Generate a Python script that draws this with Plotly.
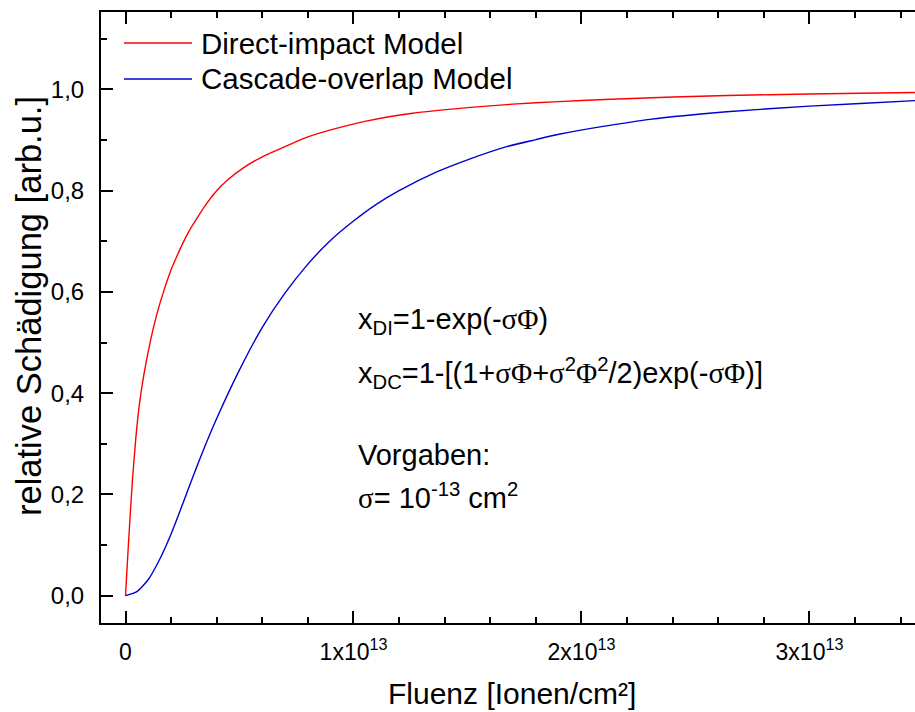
import plotly.graph_objects as go

# ---------------- data ----------------
# Fluence in units of 1e13 ions/cm^2
phi_di = [0, 0.01, 0.02, 0.03, 0.045, 0.06, 0.08, 0.11, 0.14, 0.17, 0.20, 0.22, 0.25,
          0.28, 0.32, 0.35, 0.40, 0.45, 0.52, 0.60, 0.68, 0.78, 0.90, 1.05, 1.26, 1.50,
          1.70, 1.90, 2.10, 2.40, 2.64, 3.00, 3.46, 3.50]
val_di = [0.0, 0.08, 0.155, 0.225, 0.31, 0.375, 0.435, 0.505, 0.56, 0.605, 0.644, 0.665, 0.695,
          0.721, 0.75, 0.771, 0.80, 0.822, 0.846, 0.867, 0.883, 0.903, 0.92, 0.937, 0.953, 0.964,
          0.971, 0.976, 0.980, 0.985, 0.988, 0.991, 0.994, 0.994]

phi_dc = [0, 0.05, 0.10, 0.15, 0.20, 0.25, 0.30, 0.35, 0.40, 0.50, 0.60, 0.70, 0.80,
          0.90, 1.00, 1.10, 1.20, 1.365, 1.50, 1.672, 1.80, 1.906, 2.081, 2.30, 2.637,
          3.00, 3.463, 3.50]
val_dc = [0.0, 0.008, 0.032, 0.072, 0.122, 0.180, 0.240, 0.297, 0.350, 0.446, 0.530, 0.598,
          0.655, 0.702, 0.740, 0.773, 0.800, 0.837, 0.861, 0.887, 0.901, 0.912, 0.926, 0.941,
          0.956, 0.967, 0.978, 0.979]

x_tick_vals = [0, 1, 2, 3]
x_tick_text = ["0", "1x10<sup>13</sup>", "2x10<sup>13</sup>", "3x10<sup>13</sup>"]
y_tick_vals = [0.0, 0.2, 0.4, 0.6, 0.8, 1.0]

series_names = ["Direct-impact Model", "Cascade-overlap Model"]
series_colors = ["#ff0000", "#0000d0"]

UNIT = 1e13
FONT = "Liberation Sans, Arial, sans-serif"

# ---------------- figure ----------------
FW, FH = 915, 712
ML, MR, MT, MB = 101, 0, 12, 89
PW, PH = FW - ML - MR, FH - MT - MB


def px(xp):
    return (xp - ML) / PW


def py(yp):
    return (FH - MB - yp) / PH


fig = go.Figure()
fig.add_trace(go.Scatter(x=[p * UNIT for p in phi_di], y=val_di, mode="lines",
                         line=dict(color=series_colors[0], width=1.4, shape="spline",
                                   smoothing=0.6),
                         name=series_names[0], showlegend=False))
fig.add_trace(go.Scatter(x=[p * UNIT for p in phi_dc], y=val_dc, mode="lines",
                         line=dict(color=series_colors[1], width=1.4, shape="spline",
                                   smoothing=0.6),
                         name=series_names[1], showlegend=False))

axis_common = dict(showline=True, linewidth=2, linecolor="black", showgrid=False,
                   zeroline=False, ticks="inside", ticklen=12, tickwidth=2,
                   tickcolor="black")

fig.update_xaxes(
    **axis_common,
    range=[-0.1075 * UNIT, 3.463 * UNIT],
    tickmode="array", tickvals=[v * UNIT for v in x_tick_vals], ticktext=x_tick_text,
    mirror="ticks",
    minor=dict(tickmode="linear", tick0=0, dtick=0.2 * UNIT, ticks="inside",
               ticklen=6, tickwidth=2, tickcolor="black", showgrid=False),
    tickfont=dict(family=FONT, size=23, color="black"),
    ticklabelstandoff=7,
)
fig.update_yaxes(
    **axis_common,
    range=[-0.054, 1.153],
    tickmode="array", tickvals=y_tick_vals, tickformat=".1f",
    minor=dict(tickmode="linear", tick0=0, dtick=0.1, ticks="inside",
               ticklen=6, tickwidth=2, tickcolor="black", showgrid=False),
    tickfont=dict(family=FONT, size=24, color="black"),
    ticklabelstandoff=10,
)

shapes = []
annotations = []

# axis titles
annotations.append(dict(text="Fluenz [Ionen/cm²]", xref="paper", yref="paper",
                        x=px(512), y=py(693), xanchor="center", yanchor="middle",
                        showarrow=False, font=dict(family=FONT, size=30, color="black")))
annotations.append(dict(text="relative Schädigung [arb.u.]", xref="paper", yref="paper",
                        x=px(29), y=py(306), xanchor="center", yanchor="middle",
                        textangle=-90, showarrow=False,
                        font=dict(family=FONT, size=34.5, color="black")))

# manual legend
for i, (nm, col) in enumerate(zip(series_names, series_colors)):
    yy = 43 + 36 * i
    shapes.append(dict(type="line", xref="paper", yref="paper",
                       x0=px(124), x1=px(192), y0=py(yy), y1=py(yy),
                       line=dict(color=col, width=1.4)))
    annotations.append(dict(text=nm, xref="paper", yref="paper", x=px(199), y=py(yy),
                            xanchor="left", yanchor="middle", showarrow=False,
                            font=dict(family=FONT, size=29.5, color="black")))

s = lambda t: "<span style='font-family:Liberation Serif'>" + t + "</span>"
formula_lines = [
    ("x<sub>DI</sub>=1-exp(-" + s("σΦ") + ")", 321),
    ("x<sub>DC</sub>=1-[(1+" + s("σΦ") + "+" + s("σ") + "<sup>2</sup>" + s("Φ")
     + "<sup>2</sup>/2)exp(-" + s("σΦ") + ")]", 373),
    ("Vorgaben:", 455),
    (s("σ") + "= 10<sup>-13</sup> cm<sup>2</sup>", 496),
]
for txt, yy in formula_lines:
    annotations.append(dict(text=txt, xref="paper", yref="paper", x=px(356), y=py(yy),
                            xanchor="left", yanchor="middle", showarrow=False,
                            font=dict(family=FONT, size=29, color="black")))

fig.update_layout(
    width=FW, height=FH,
    margin=dict(l=ML, r=MR, t=MT, b=MB),
    plot_bgcolor="white", paper_bgcolor="white",
    separators=",.",
    showlegend=False,
    shapes=shapes, annotations=annotations,
    font=dict(family=FONT, color="black"),
)

fig.write_html("out.html")
